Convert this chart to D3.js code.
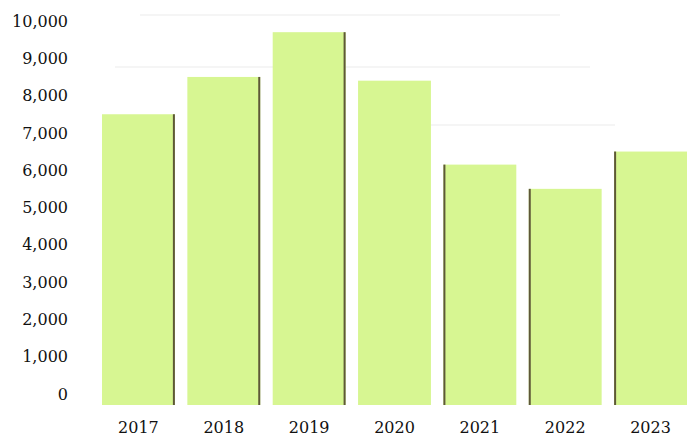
<!DOCTYPE html>
<meta charset="utf-8">
<title>Bar chart</title>
<style>
  body { margin: 0; background: #fff; }
  text { font-family: "DejaVu Serif", serif; font-size: 16px; fill: #111; }
</style>
<body>
<script src="https://d3js.org/d3.v7.min.js"></script>
<script type="text/javascript">

// data
var years = ["2017", "2018", "2019", "2020", "2021", "2022", "2023"];
var values = [7500, 8500, 9700, 8400, 6150, 5500, 6500];
var yTicks = [0, 1000, 2000, 3000, 4000, 5000, 6000, 7000, 8000, 9000, 10000];
// which side carries the dark shadow line (0 = none)
var edgeSide = [1, 1, 1, 0, -1, -1, -1];

var width = 693;
var height = 439;

var svg = d3.select("body")
      .append("svg")
      .attr("width", width)
      .attr("height", height);

var x = d3.scaleBand()
  .domain(years)
  .range([102, 687])
  .paddingInner(0.146)
  .paddingOuter(0);

var y = d3.scaleLinear()
  .domain([0, 10000])
  .range([394, 21]);

var baseY = y(0) + 11;

// faint background lines
var faint = [[140, 560, 15], [115, 590, 67], [400, 615, 125]];
svg.selectAll("line.faint")
  .data(faint)
  .enter().append("line")
  .attr("class", "faint")
  .attr("x1", function(d) { return d[0]; })
  .attr("x2", function(d) { return d[1]; })
  .attr("y1", function(d) { return d[2]; })
  .attr("y2", function(d) { return d[2]; })
  .style("stroke", "#f5f5f5")
  .style("stroke-width", 2);

// bars
var bars = svg.selectAll("g.bar")
  .data(years)
  .enter().append("g")
  .attr("class", "bar");

bars.append("rect")
  .attr("x", function(d) { return x(d); })
  .attr("y", function(d, i) { return y(values[i]); })
  .attr("width", x.bandwidth())
  .attr("height", function(d, i) { return baseY - y(values[i]); })
  .style("fill", "#d7f692");

bars.filter(function(d, i) { return edgeSide[i] !== 0; })
  .append("rect")
  .attr("x", function(d) {
    var i = years.indexOf(d);
    return edgeSide[i] > 0 ? x(d) + x.bandwidth() - 2 : x(d);
  })
  .attr("y", function(d) { return y(values[years.indexOf(d)]); })
  .attr("width", 2)
  .attr("height", function(d) { return baseY - y(values[years.indexOf(d)]); })
  .style("fill", "#5e5838");

// y axis labels
var fmt = d3.format(",");
svg.selectAll("text.ytick")
  .data(yTicks)
  .enter().append("text")
  .attr("class", "ytick")
  .attr("x", 68)
  .attr("y", function(d) { return y(d); })
  .attr("dy", ".35em")
  .attr("text-anchor", "end")
  .text(function(d) { return fmt(d); });

// x axis labels
svg.selectAll("text.xtick")
  .data(years)
  .enter().append("text")
  .attr("class", "xtick")
  .attr("x", function(d) { return x(d) + x.bandwidth() / 2; })
  .attr("y", 427)
  .attr("dy", ".35em")
  .attr("text-anchor", "middle")
  .text(function(d) { return d; });

</script>
</body>
